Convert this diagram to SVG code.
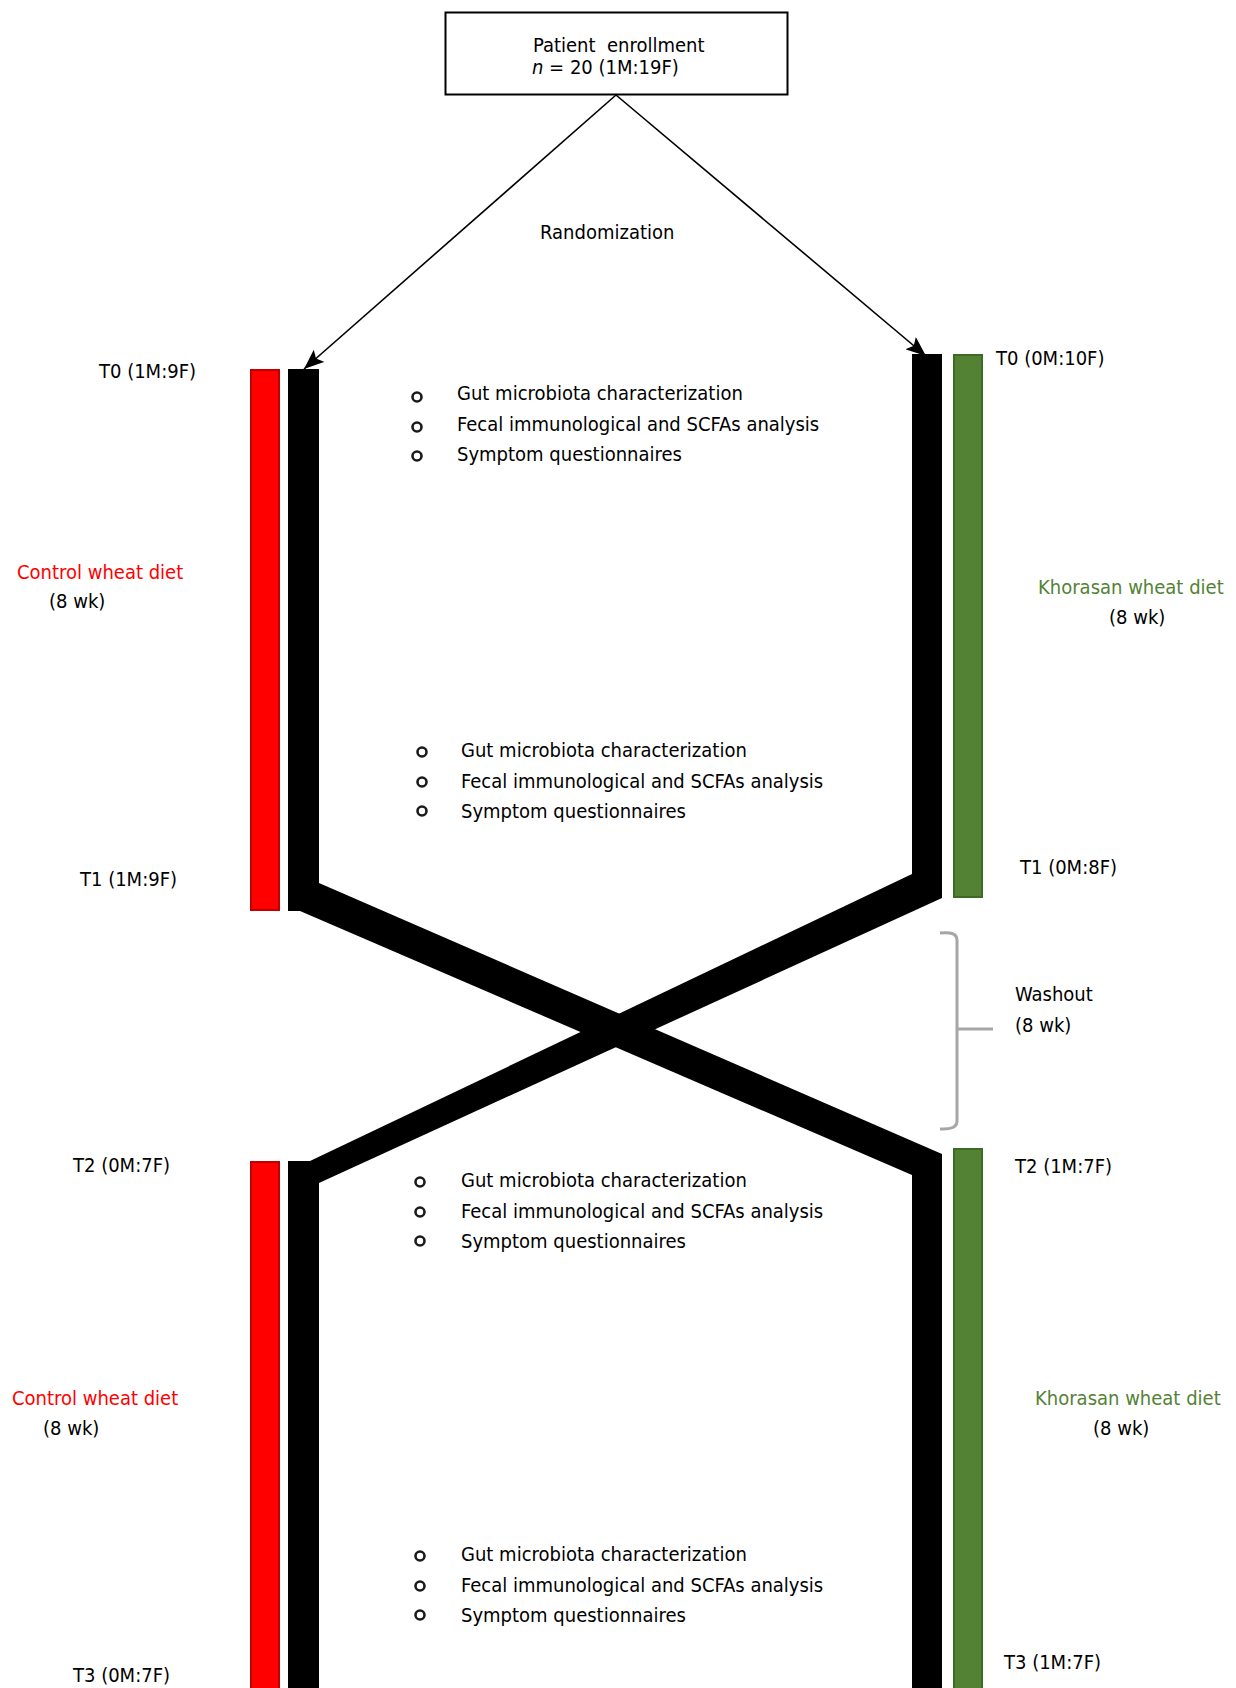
<svg xmlns="http://www.w3.org/2000/svg" width="1236" height="1688" viewBox="0 0 1236 1688">
<defs>
<marker id="ah2" viewBox="0 0 20 16" refX="20" refY="8" markerWidth="20" markerHeight="16" markerUnits="userSpaceOnUse" orient="auto">
<path d="M0,0 L20,8 L0,16 L4,8 z" fill="#000"/>
</marker>
</defs>
<style>
text{font-family:'DejaVu Sans Condensed','DejaVu Sans',sans-serif;font-stretch:condensed;font-size:20px;fill:#000}
.red{fill:#ff0000}
.grn{fill:#548235}
.bar-r{fill:#ff0000;stroke:#c00000;stroke-width:2}
.bar-g{fill:#548235;stroke:#3d6b22;stroke-width:2}
.bul{fill:#fff;stroke:#1a1a1a;stroke-width:2.6}
.arr{stroke:#000;stroke-width:1.6;fill:none}
</style>
<rect width="1236" height="1688" fill="#fff"/>

<g id="enrollment">
<rect x="445.5" y="12.5" width="342" height="82" fill="#fff" stroke="#000" stroke-width="2"/>
<text x="533" y="52" xml:space="preserve">Patient  enrollment</text>
<text x="532" y="74" xml:space="preserve"><tspan font-style="italic">n</tspan> = 20 (1M:19F)</text>
</g>

<g id="randomization">
<text x="540" y="239">Randomization</text>
</g>

<g id="connectors">
<line class="arr" x1="616" y1="95" x2="304" y2="369" marker-end="url(#ah2)"/>
<line class="arr" x1="616" y1="95" x2="926" y2="356" marker-end="url(#ah2)"/>
<path d="M288,369 L319,369 L319,883 L942,1154 L942,1688 L912,1688 L912,1175 L300,911 L288,911 Z" fill="#000"/>
<path d="M912,354 L942,354 L942,898 L319,1183 L319,1688 L288,1688 L288,1161 L310,1161 L912,874 Z" fill="#000"/>
<path d="M940,933 Q957,931 957,940 L957,1121 Q957,1130 940,1129 M957,1029 L993,1029" fill="none" stroke="#a6a6a6" stroke-width="3"/>
</g>

<g id="period1-control">
<rect class="bar-r" x="251" y="370" width="28" height="540"/>
<text x="99" y="378">T0 (1M:9F)</text>
<text class="red" x="17" y="579">Control wheat diet</text>
<text x="49" y="608">(8 wk)</text>
<text x="80" y="886">T1 (1M:9F)</text>
</g>

<g id="period1-khorasan">
<rect class="bar-g" x="954" y="355" width="28" height="542"/>
<text x="996" y="365">T0 (0M:10F)</text>
<text class="grn" x="1038" y="594">Khorasan wheat diet</text>
<text x="1109" y="624">(8 wk)</text>
<text x="1020" y="874">T1 (0M:8F)</text>
</g>

<g id="washout">
<text x="1015" y="1001">Washout</text>
<text x="1015" y="1032">(8 wk)</text>
</g>

<g id="period2-control">
<rect class="bar-r" x="251" y="1162" width="28" height="530"/>
<text x="73" y="1172">T2 (0M:7F)</text>
<text class="red" x="12" y="1405">Control wheat diet</text>
<text x="43" y="1435">(8 wk)</text>
<text x="73" y="1682">T3 (0M:7F)</text>
</g>

<g id="period2-khorasan">
<rect class="bar-g" x="954" y="1149" width="28" height="545"/>
<text x="1015" y="1173">T2 (1M:7F)</text>
<text class="grn" x="1035" y="1405">Khorasan wheat diet</text>
<text x="1093" y="1435">(8 wk)</text>
<text x="1004" y="1669">T3 (1M:7F)</text>
</g>

<g id="list-t0">
<circle class="bul" cx="417" cy="397" r="4.5"/>
<circle class="bul" cx="417" cy="427" r="4.5"/>
<circle class="bul" cx="417" cy="456" r="4.5"/>
<text x="457" y="400">Gut microbiota characterization</text>
<text x="457" y="431">Fecal immunological and SCFAs analysis</text>
<text x="457" y="461">Symptom questionnaires</text>
</g>

<g id="list-t1">
<circle class="bul" cx="422" cy="752" r="4.5"/>
<circle class="bul" cx="422" cy="782" r="4.5"/>
<circle class="bul" cx="422" cy="811" r="4.5"/>
<text x="461" y="757">Gut microbiota characterization</text>
<text x="461" y="788">Fecal immunological and SCFAs analysis</text>
<text x="461" y="818">Symptom questionnaires</text>
</g>

<g id="list-t2">
<circle class="bul" cx="420" cy="1182" r="4.5"/>
<circle class="bul" cx="420" cy="1212" r="4.5"/>
<circle class="bul" cx="420" cy="1241" r="4.5"/>
<text x="461" y="1187">Gut microbiota characterization</text>
<text x="461" y="1218">Fecal immunological and SCFAs analysis</text>
<text x="461" y="1248">Symptom questionnaires</text>
</g>

<g id="list-t3">
<circle class="bul" cx="420" cy="1556" r="4.5"/>
<circle class="bul" cx="420" cy="1586" r="4.5"/>
<circle class="bul" cx="420" cy="1615" r="4.5"/>
<text x="461" y="1561">Gut microbiota characterization</text>
<text x="461" y="1592">Fecal immunological and SCFAs analysis</text>
<text x="461" y="1622">Symptom questionnaires</text>
</g>
</svg>
